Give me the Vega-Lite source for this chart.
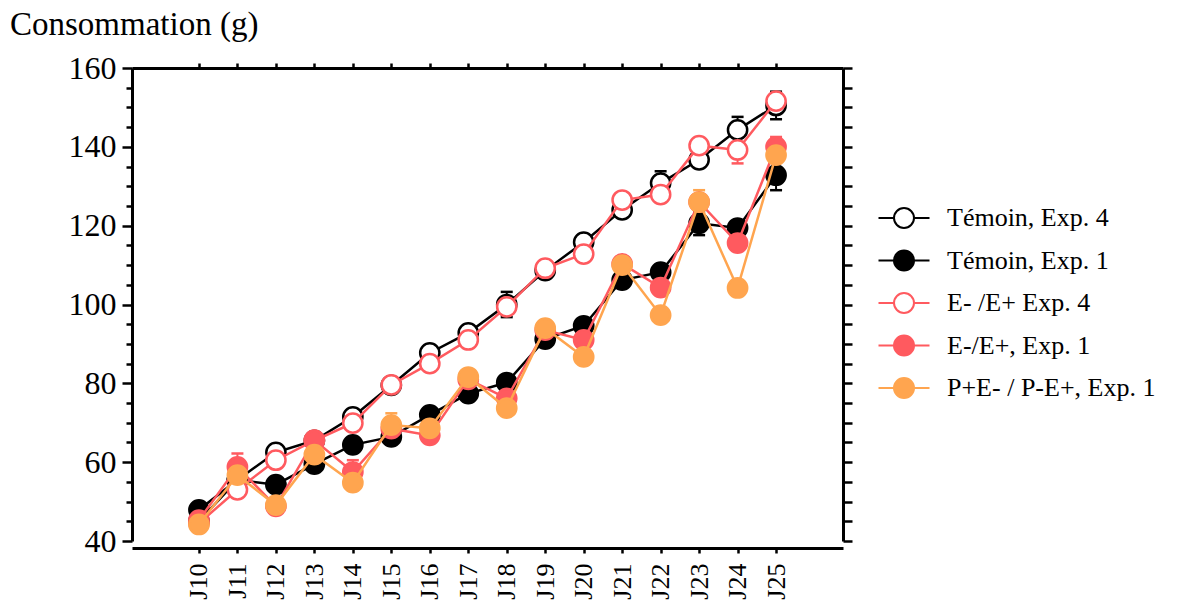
{
  "$schema": "https://vega.github.io/schema/vega-lite/v6.json",
  "autosize": {"type": "none"},
  "padding": {"left": 132, "top": 68, "right": 334, "bottom": 65},
  "width": 711,
  "height": 473,
  "title": {"text": "Consommation (g)", "anchor": "start", "frame": "group", "dx": -122, "dy": 43, "offset": 27, "font": "Liberation Serif", "fontSize": 33, "fontWeight": "normal", "color": "#000000", "baseline": "alphabetic"},
  "config": {
    "view": {"stroke": null},
    "axis": {"grid": false, "domainColor": "#000000", "domainWidth": 3, "tickColor": "#000000", "tickWidth": 2.5, "labelFont": "Liberation Serif", "labelColor": "#000000", "title": null, "labelOverlap": false, "labelBound": false, "labelFlush": false},
    "legend": {"orient": "none", "legendX": 759, "legendY": 137, "title": null, "symbolType": "M-2.55,0L-1,0M1,0L2.55,0M-1,0A1,1,0,1,1,1,0A1,1,0,1,1,-1,0Z", "symbolSize": 400, "symbolStrokeWidth": 2, "labelFont": "Liberation Serif", "labelFontSize": 26, "labelColor": "#000000", "labelOffset": 30, "labelLimit": 400, "rowPadding": 14.5, "padding": 0}
  },
  "data": {"values": [
    {"series": "Témoin, Exp. 4", "day": 10, "value": 45},
    {"series": "Témoin, Exp. 4", "day": 11, "value": 55.5},
    {"series": "Témoin, Exp. 4", "day": 12, "value": 62.5},
    {"series": "Témoin, Exp. 4", "day": 13, "value": 65.5},
    {"series": "Témoin, Exp. 4", "day": 14, "value": 71.5},
    {"series": "Témoin, Exp. 4", "day": 15, "value": 79.5},
    {"series": "Témoin, Exp. 4", "day": 16, "value": 87.7},
    {"series": "Témoin, Exp. 4", "day": 17, "value": 92.8},
    {"series": "Témoin, Exp. 4", "day": 18, "value": 100, "err": 3.2},
    {"series": "Témoin, Exp. 4", "day": 19, "value": 108.6},
    {"series": "Témoin, Exp. 4", "day": 20, "value": 115.8},
    {"series": "Témoin, Exp. 4", "day": 21, "value": 124},
    {"series": "Témoin, Exp. 4", "day": 22, "value": 130.8, "err": 3},
    {"series": "Témoin, Exp. 4", "day": 23, "value": 136.7},
    {"series": "Témoin, Exp. 4", "day": 24, "value": 144.3, "err": 3.3},
    {"series": "Témoin, Exp. 4", "day": 25, "value": 150.5, "err": 3.5},
    {"series": "Témoin, Exp. 1", "day": 10, "value": 47.9},
    {"series": "Témoin, Exp. 1", "day": 11, "value": 55.5},
    {"series": "Témoin, Exp. 1", "day": 12, "value": 54.3},
    {"series": "Témoin, Exp. 1", "day": 13, "value": 59.5},
    {"series": "Témoin, Exp. 1", "day": 14, "value": 64.4},
    {"series": "Témoin, Exp. 1", "day": 15, "value": 66.4},
    {"series": "Témoin, Exp. 1", "day": 16, "value": 72},
    {"series": "Témoin, Exp. 1", "day": 17, "value": 77.4},
    {"series": "Témoin, Exp. 1", "day": 18, "value": 80.2},
    {"series": "Témoin, Exp. 1", "day": 19, "value": 91.2},
    {"series": "Témoin, Exp. 1", "day": 20, "value": 94.6},
    {"series": "Témoin, Exp. 1", "day": 21, "value": 106.2},
    {"series": "Témoin, Exp. 1", "day": 22, "value": 108.2},
    {"series": "Témoin, Exp. 1", "day": 23, "value": 120.6, "err": 3},
    {"series": "Témoin, Exp. 1", "day": 24, "value": 119.4},
    {"series": "Témoin, Exp. 1", "day": 25, "value": 132.8, "err": 3.8},
    {"series": "E- /E+ Exp. 4", "day": 10, "value": 44.5},
    {"series": "E- /E+ Exp. 4", "day": 11, "value": 53},
    {"series": "E- /E+ Exp. 4", "day": 12, "value": 60.5},
    {"series": "E- /E+ Exp. 4", "day": 13, "value": 65.5},
    {"series": "E- /E+ Exp. 4", "day": 14, "value": 69.9},
    {"series": "E- /E+ Exp. 4", "day": 15, "value": 79.6},
    {"series": "E- /E+ Exp. 4", "day": 16, "value": 85},
    {"series": "E- /E+ Exp. 4", "day": 17, "value": 91},
    {"series": "E- /E+ Exp. 4", "day": 18, "value": 99.4},
    {"series": "E- /E+ Exp. 4", "day": 19, "value": 109.2},
    {"series": "E- /E+ Exp. 4", "day": 20, "value": 112.8},
    {"series": "E- /E+ Exp. 4", "day": 21, "value": 126.5},
    {"series": "E- /E+ Exp. 4", "day": 22, "value": 127.9},
    {"series": "E- /E+ Exp. 4", "day": 23, "value": 140.3},
    {"series": "E- /E+ Exp. 4", "day": 24, "value": 139.2, "err": 3.4},
    {"series": "E- /E+ Exp. 4", "day": 25, "value": 151.6},
    {"series": "E-/E+, Exp. 1", "day": 10, "value": 45.3},
    {"series": "E-/E+, Exp. 1", "day": 11, "value": 58.8, "err": 3.4},
    {"series": "E-/E+, Exp. 1", "day": 12, "value": 48.8},
    {"series": "E-/E+, Exp. 1", "day": 13, "value": 65.6},
    {"series": "E-/E+, Exp. 1", "day": 14, "value": 57.5, "err": 3},
    {"series": "E-/E+, Exp. 1", "day": 15, "value": 68.5},
    {"series": "E-/E+, Exp. 1", "day": 16, "value": 66.8},
    {"series": "E-/E+, Exp. 1", "day": 17, "value": 81},
    {"series": "E-/E+, Exp. 1", "day": 18, "value": 76.2},
    {"series": "E-/E+, Exp. 1", "day": 19, "value": 93.5},
    {"series": "E-/E+, Exp. 1", "day": 20, "value": 91},
    {"series": "E-/E+, Exp. 1", "day": 21, "value": 110.3},
    {"series": "E-/E+, Exp. 1", "day": 22, "value": 104.3},
    {"series": "E-/E+, Exp. 1", "day": 23, "value": 126},
    {"series": "E-/E+, Exp. 1", "day": 24, "value": 115.6},
    {"series": "E-/E+, Exp. 1", "day": 25, "value": 140, "err": 2.5},
    {"series": "P+E- / P-E+, Exp. 1", "day": 10, "value": 44.2},
    {"series": "P+E- / P-E+, Exp. 1", "day": 11, "value": 56.7},
    {"series": "P+E- / P-E+, Exp. 1", "day": 12, "value": 49.1},
    {"series": "P+E- / P-E+, Exp. 1", "day": 13, "value": 61.9},
    {"series": "P+E- / P-E+, Exp. 1", "day": 14, "value": 54.8},
    {"series": "P+E- / P-E+, Exp. 1", "day": 15, "value": 69.4, "err": 3},
    {"series": "P+E- / P-E+, Exp. 1", "day": 16, "value": 68.6},
    {"series": "P+E- / P-E+, Exp. 1", "day": 17, "value": 81.6},
    {"series": "P+E- / P-E+, Exp. 1", "day": 18, "value": 73.7},
    {"series": "P+E- / P-E+, Exp. 1", "day": 19, "value": 94},
    {"series": "P+E- / P-E+, Exp. 1", "day": 20, "value": 86.7},
    {"series": "P+E- / P-E+, Exp. 1", "day": 21, "value": 110},
    {"series": "P+E- / P-E+, Exp. 1", "day": 22, "value": 97.3},
    {"series": "P+E- / P-E+, Exp. 1", "day": 23, "value": 126, "err": 3},
    {"series": "P+E- / P-E+, Exp. 1", "day": 24, "value": 104.2},
    {"series": "P+E- / P-E+, Exp. 1", "day": 25, "value": 137.9}
  ]},
  "encoding": {
    "x": {"field": "day", "type": "quantitative", "scale": {"domain": [8.26, 26.74], "nice": false, "zero": false}, "axis": null},
    "y": {"field": "value", "type": "quantitative", "scale": {"domain": [40, 160], "nice": false, "zero": false}, "axis": null}
  },
  "resolve": {"axis": {"x": "independent", "y": "independent"}},
  "layer": [
    {
      "transform": [{"filter": "datum.err > 0"}],
      "mark": {"type": "errorbar", "opacity": 1, "ticks": {"size": 12, "thickness": 2.5, "opacity": 1}, "rule": {"strokeWidth": 2, "opacity": 1}},
      "encoding": {
        "y": {"field": "value", "type": "quantitative", "scale": {"domain": [40, 160], "nice": false, "zero": false}, "axis": null},
        "yError": {"field": "err"},
        "color": {"field": "series", "type": "nominal", "scale": {"range": ["#FF5A5F", "#FF5A5F", "#FFA54F", "#000000", "#000000"]}, "legend": null}
      }
    },
    {
      "transform": [{"filter": {"field": "series", "equal": "Témoin, Exp. 4"}}],
      "mark": {"type": "line", "strokeWidth": 2.5},
      "encoding": {
        "x": {"field": "day", "type": "quantitative", "scale": {"domain": [8.26, 26.74], "nice": false, "zero": false}, "axis": {"orient": "bottom", "offset": 7, "values": [10,11,12,13,14,15,16,17,18,19,20,21,22,23,24,25], "labelExpr": "'J' + datum.value", "labelAngle": -90, "labelAlign": "right", "labelBaseline": "middle", "labelFontSize": 26, "tickSize": 5, "labelPadding": 10}},
        "y": {"field": "value", "type": "quantitative", "scale": {"domain": [40, 160], "nice": false, "zero": false}, "axis": {"orient": "left", "values": [40,60,80,100,120,140,160], "tickSize": 10, "labelFontSize": 32, "labelPadding": 6}},
        "stroke": {"field": "series", "type": "nominal", "scale": {"domain": ["Témoin, Exp. 4", "Témoin, Exp. 1", "E- /E+ Exp. 4", "E-/E+, Exp. 1", "P+E- / P-E+, Exp. 1"], "range": ["#000000", "#000000", "#FF5A5F", "#FF5A5F", "#FFA54F"]}}
      }
    },
    {
      "transform": [{"filter": {"field": "series", "equal": "Témoin, Exp. 4"}}],
      "mark": {"type": "point", "filled": true, "size": 370, "strokeWidth": 2.5, "opacity": 1},
      "encoding": {
        "x": {"field": "day", "type": "quantitative", "scale": {"domain": [8.26, 26.74], "nice": false, "zero": false}, "axis": {"orient": "top", "values": [10,11,12,13,14,15,16,17,18,19,20,21,22,23,24,25], "labels": false, "tickSize": 5}},
        "y": {"field": "value", "type": "quantitative", "scale": {"domain": [40, 160], "nice": false, "zero": false}, "axis": {"orient": "right", "values": [40,45,50,55,60,65,70,75,80,85,90,95,100,105,110,115,120,125,130,135,140,145,150,155,160], "labels": false, "tickSize": 9}},
        "stroke": {"field": "series", "type": "nominal"},
        "fill": {"field": "series", "type": "nominal", "scale": {"domain": ["Témoin, Exp. 4", "Témoin, Exp. 1", "E- /E+ Exp. 4", "E-/E+, Exp. 1", "P+E- / P-E+, Exp. 1"], "range": ["#FFFFFF", "#000000", "#FFFFFF", "#FF5A5F", "#FFA54F"]}}
      }
    },
    {
      "transform": [{"filter": {"field": "series", "equal": "Témoin, Exp. 1"}}],
      "mark": {"type": "line", "strokeWidth": 2.5},
      "encoding": {
        "y": {"field": "value", "type": "quantitative", "scale": {"domain": [40, 160], "nice": false, "zero": false}, "axis": {"orient": "left", "values": [45,50,55,65,70,75,85,90,95,105,110,115,125,130,135,145,150,155], "labels": false, "domain": false, "tickSize": 6}},
        "stroke": {"field": "series", "type": "nominal"}
      }
    },
    {
      "transform": [{"filter": {"field": "series", "equal": "Témoin, Exp. 1"}}],
      "mark": {"type": "point", "filled": true, "size": 370, "strokeWidth": 2.5, "opacity": 1},
      "encoding": {
        "stroke": {"field": "series", "type": "nominal"},
        "fill": {"field": "series", "type": "nominal"}
      }
    },
    {
      "transform": [{"filter": {"field": "series", "equal": "E- /E+ Exp. 4"}}],
      "mark": {"type": "line", "strokeWidth": 2.5},
      "encoding": {"stroke": {"field": "series", "type": "nominal"}}
    },
    {
      "transform": [{"filter": {"field": "series", "equal": "E- /E+ Exp. 4"}}],
      "mark": {"type": "point", "filled": true, "size": 370, "strokeWidth": 2.5, "opacity": 1},
      "encoding": {
        "stroke": {"field": "series", "type": "nominal"},
        "fill": {"field": "series", "type": "nominal"}
      }
    },
    {
      "transform": [{"filter": {"field": "series", "equal": "E-/E+, Exp. 1"}}],
      "mark": {"type": "line", "strokeWidth": 2.5},
      "encoding": {"stroke": {"field": "series", "type": "nominal"}}
    },
    {
      "transform": [{"filter": {"field": "series", "equal": "E-/E+, Exp. 1"}}],
      "mark": {"type": "point", "filled": true, "size": 370, "strokeWidth": 2.5, "opacity": 1},
      "encoding": {
        "stroke": {"field": "series", "type": "nominal"},
        "fill": {"field": "series", "type": "nominal"}
      }
    },
    {
      "transform": [{"filter": {"field": "series", "equal": "P+E- / P-E+, Exp. 1"}}],
      "mark": {"type": "line", "strokeWidth": 2.5},
      "encoding": {"stroke": {"field": "series", "type": "nominal"}}
    },
    {
      "transform": [{"filter": {"field": "series", "equal": "P+E- / P-E+, Exp. 1"}}],
      "mark": {"type": "point", "filled": true, "size": 370, "strokeWidth": 2.5, "opacity": 1},
      "encoding": {
        "stroke": {"field": "series", "type": "nominal"},
        "fill": {"field": "series", "type": "nominal"}
      }
    }
  ]
}
